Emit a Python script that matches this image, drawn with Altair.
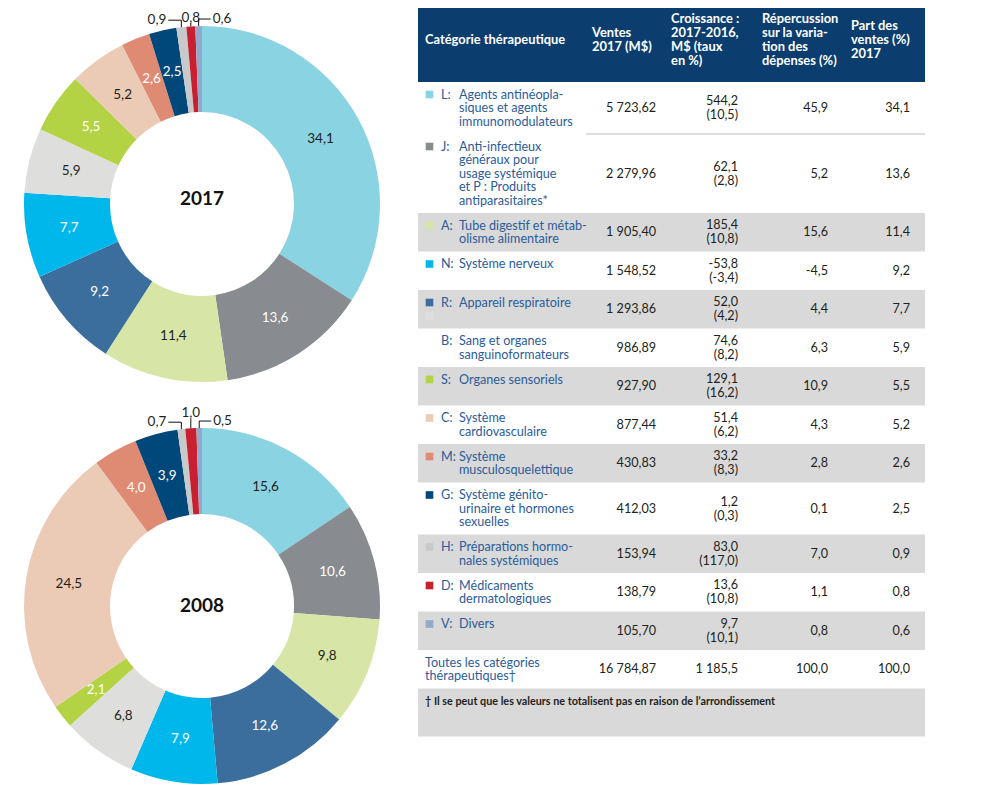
import math
import altair as alt
import pandas as pd

# ---------------- data ----------------
codes = ["L", "J", "A", "N", "R", "B", "S", "C", "M", "G", "H", "D", "V"]
category_lines = [
    ["Agents antinéopla-", "siques et agents", "immunomodulateurs"],
    ["Anti-infectieux", "généraux pour", "usage systémique", "et P : Produits", "antiparasitaires*"],
    ["Tube digestif et métab-", "olisme alimentaire"],
    ["Système nerveux"],
    ["Appareil respiratoire"],
    ["Sang et organes", "sanguinoformateurs"],
    ["Organes sensoriels"],
    ["Système", "cardiovasculaire"],
    ["Système", "musculosquelettique"],
    ["Système génito-", "urinaire et hormones", "sexuelles"],
    ["Préparations hormo-", "nales systémiques"],
    ["Médicaments", "dermatologiques"],
    ["Divers"],
]
ventes_2017 = [5723.62, 2279.96, 1905.40, 1548.52, 1293.86, 986.89, 927.90,
               877.44, 430.83, 412.03, 153.94, 138.79, 105.70]
croissance_ms = [544.2, 62.1, 185.4, -53.8, 52.0, 74.6, 129.1, 51.4, 33.2, 1.2, 83.0, 13.6, 9.7]
croissance_taux = [10.5, 2.8, 10.8, -3.4, 4.2, 8.2, 16.2, 6.2, 8.3, 0.3, 117.0, 10.8, 10.1]
repercussion = [45.9, 5.2, 15.6, -4.5, 4.4, 6.3, 10.9, 4.3, 2.8, 0.1, 7.0, 1.1, 0.8]
part_2017 = [34.1, 13.6, 11.4, 9.2, 7.7, 5.9, 5.5, 5.2, 2.6, 2.5, 0.9, 0.8, 0.6]
part_2008 = [15.6, 10.6, 9.8, 12.6, 7.9, 6.8, 2.1, 24.5, 4.0, 3.9, 0.7, 1.0, 0.5]
years = ["2017", "2008"]
total_label = ["Toutes les catégories", "thérapeutiques†"]
total_ventes = 16784.87
total_croissance = 1185.5
total_repercussion = 100.0
total_part = 100.0
header_cat = ["Catégorie thérapeutique"]
header_ventes = ["Ventes", "2017 (M$)"]
header_crois = ["Croissance :", "2017-2016,", "M$ (taux", "en %)"]
header_rep = ["Répercussion", "sur la varia-", "tion des", "dépenses (%)"]
header_part = ["Part des", "ventes (%)", "2017"]
footnote = "† Il se peut que les valeurs ne totalisent pas en raison de l’arrondissement"

# ---------------- style ----------------
colors = {
    "L": "#8AD3E2", "J": "#888B90", "A": "#D7E6A6", "N": "#00B7EB",
    "R": "#3C6E9D", "B": "#DEDFDD", "S": "#B3D244", "C": "#EBCBB5",
    "M": "#DF8B74", "G": "#00477A", "H": "#C8C9CA", "D": "#C9202F", "V": "#93A9CB",
}
# in the source the donuts show the N and R swatches swapped
donut_colors = dict(colors, N=colors["R"], R=colors["N"])
dark_labels = {"L", "A", "B", "C"}
outside = ["H", "D", "V"]
FONT = "Lato"
BLUE_TXT = "#2B5C9B"
INK = "#231F20"
NAVY = "#0B3E6F"
GRAY = "#D9D9D9"
FS = 12.6      # body text size
FS_H = 12.9    # header text size

W, H = 980, 778
CX = 194
CY = {"2017": 196, "2008": 598}
CENTER_LABEL_Y = {"2017": 191, "2008": 598}
R_OUT, R_IN, R_LAB = 178, 92, 135

TX0, TX1 = 410, 917
HEAD_Y1 = 74
LH = 13.5
X_SQ, X_CODE, X_CAT = 421.5, 433, 451
X_VENTES, X_CROIS, X_REP, X_PART = 648, 730, 820, 902
HX = {"cat": 417, "ventes": 584, "crois": 663, "rep": 754, "part": 843}

XS = alt.Scale(domain=[0, W], nice=False, zero=False)
YS = alt.Scale(domain=[0, H], nice=False, zero=False, reverse=True)
DONUT_COLOR = alt.Color("code:N", scale=alt.Scale(domain=codes, range=[donut_colors[c] for c in codes]),
                        legend=None)
SWATCH_FILL = alt.Fill("code:N", scale=alt.Scale(domain=codes, range=[colors[c] for c in codes]),
                       legend=None)


def fr(v, d):
    s = f"{abs(v):,.{d}f}".replace(",", " ").replace(".", ",")
    return ("-" if v < 0 else "") + s


def X(f):
    return alt.X(f, scale=XS, axis=None)


def Y(f):
    return alt.Y(f, scale=YS, axis=None)


# ---------------- donuts ----------------
def donut(vals, year):
    cy = CY[year]
    df = pd.DataFrame({
        "code": codes, "v": vals, "idx": list(range(len(codes))),
        "lab_dark": [fr(v, 1) if (c in dark_labels) else "" for c, v in zip(codes, vals)],
        "lab_light": [fr(v, 1) if (c not in dark_labels and c not in outside) else ""
                      for c, v in zip(codes, vals)],
    })
    base = alt.Chart(df).encode(
        theta=alt.Theta("v:Q", stack=True),
        order=alt.Order("idx:Q", sort="ascending"),
        x=alt.value(CX), y=alt.value(cy),
    )
    arc = base.mark_arc(innerRadius=R_IN, outerRadius=R_OUT, strokeWidth=0).encode(color=DONUT_COLOR)
    txt_d = base.mark_text(radius=R_LAB, font=FONT, fontSize=13.5, color=INK).encode(
        text="lab_dark:N", detail="code:N")
    txt_l = base.mark_text(radius=R_LAB, font=FONT, fontSize=13.5, color="white").encode(
        text="lab_light:N", detail="code:N")
    center = alt.Chart(pd.DataFrame({"t": [year]})).mark_text(
        font=FONT, fontSize=19, fontWeight="bold", color="#111111", baseline="middle"
    ).encode(text="t:N", x=alt.value(CX), y=alt.value(CENTER_LABEL_Y[year]))

    # leaders for the tiny slices, anchored at the mid-angle of each slice
    total = sum(vals)
    segs, labs = [], []
    cum = 0.0
    for c, v in zip(codes, vals):
        start = cum
        cum += v
        if c not in outside:
            continue
        a = (start + v / 2) / total * 2 * math.pi
        ax = CX + R_OUT * math.sin(a)
        ay = cy - R_OUT * math.cos(a)
        t = fr(v, 1)
        if c == "H":
            hy = ay - 7
            segs += [dict(x=ax, x2=ax, y=ay, y2=hy), dict(x=ax, x2=ax - 13, y=hy, y2=hy)]
            labs.append(dict(x=ax - 15, y=hy, t=t, al="right", bl="middle"))
        elif c == "V":
            hy = ay - 7
            segs += [dict(x=ax, x2=ax, y=ay, y2=hy), dict(x=ax, x2=ax + 12, y=hy, y2=hy)]
            labs.append(dict(x=ax + 14, y=hy, t=t, al="left", bl="middle"))
        else:
            ly = max(ay - 11, 14)
            segs += [dict(x=ax, x2=ax, y=ay, y2=min(ly + 1, ay - 3))]
            labs.append(dict(x=ax, y=ly, t=t, al="center", bl="alphabetic"))
    seg_df = pd.DataFrame(segs)
    lab_df = pd.DataFrame(labs)
    rules = alt.Chart(seg_df).mark_rule(color="#111111", strokeWidth=1).encode(
        x=X("x:Q"), x2="x2:Q", y=Y("y:Q"), y2="y2:Q")
    lab_layers = []
    for al in ["left", "center", "right"]:
        sub = lab_df[lab_df.al == al]
        bl = sub.bl.iloc[0]
        lab_layers.append(alt.Chart(sub).mark_text(
            align=al, baseline=bl, font=FONT, fontSize=13.5, color=INK
        ).encode(x=X("x:Q"), y=Y("y:Q"), text="t:N"))
    return alt.layer(arc, txt_d, txt_l, center, rules, *lab_layers)


# ---------------- table layout ----------------
rows = []
y = HEAD_Y1
for i, c in enumerate(codes):
    n = len(category_lines[i])
    h = LH * max(2, n) + 11.5
    rows.append(dict(code=c, top=y, bot=y + h, n=n, gray=(i >= 2 and i % 2 == 0)))
    y += h
total_top, total_bot = y, y + LH * 2 + 11.5
foot_top, foot_bot = total_bot, total_bot + 48


def block(lines, cy, lh=LH):
    n = max(2, len(lines))
    first = cy - (n - 1) * lh / 2
    return [(first + k * lh, s) for k, s in enumerate(lines)]


bg = [dict(y0=r["top"], y1=r["bot"]) for r in rows if r["gray"]] + [dict(y0=foot_top, y1=foot_bot)]
bg_df = pd.DataFrame(bg).assign(x0=TX0, x1=TX1)

cat_rows, code_rows, sq_rows = [], [], []
num_rows = {k: [] for k in ["v", "c", "r", "p"]}
first_line = {}
for i, r in enumerate(rows):
    cyr = (r["top"] + r["bot"]) / 2
    lines = block(category_lines[i], cyr)
    first_line[r["code"]] = lines[0][0]
    for yy, s in lines:
        cat_rows.append(dict(y=yy, t=s))
    code_rows.append(dict(y=lines[0][0], t=r["code"] + ":"))
    num_rows["v"].append(dict(y=cyr, t=fr(ventes_2017[i], 2)))
    num_rows["c"].append(dict(y=cyr - 7, t=fr(croissance_ms[i], 1)))
    num_rows["c"].append(dict(y=cyr + 7, t="(" + fr(croissance_taux[i], 1) + ")"))
    num_rows["r"].append(dict(y=cyr, t=fr(repercussion[i], 1)))
    num_rows["p"].append(dict(y=cyr, t=fr(part_2017[i], 1)))
# legend swatches (the B swatch sits under the R swatch, as in the source)
for c in codes:
    yy = first_line["R"] + LH if c == "B" else first_line[c]
    sq_rows.append(dict(code=c, y=yy))

tcy = (total_top + total_bot) / 2
total_lines = [dict(y=yy, t=s) for yy, s in block(total_label, tcy)]
num_rows["v"].append(dict(y=tcy, t=fr(total_ventes, 2)))
num_rows["c"].append(dict(y=tcy, t=fr(total_croissance, 1)))
num_rows["r"].append(dict(y=tcy, t=fr(total_repercussion, 1)))
num_rows["p"].append(dict(y=tcy, t=fr(total_part, 1)))

HEAD_CY = 32
LH_H = 13.9


def hblock(lines):
    n = len(lines)
    return [dict(y=HEAD_CY + (k - (n - 1) / 2) * LH_H, t=s) for k, s in enumerate(lines)]


def text_layer(records, x, align="left", color=INK, size=FS, weight="normal", baseline="middle"):
    return alt.Chart(pd.DataFrame(records)).mark_text(
        align=align, baseline=baseline, font=FONT, fontSize=size, fontWeight=weight, color=color
    ).encode(x=alt.value(x), y=Y("y:Q"), text="t:N")


head_rect = alt.Chart(pd.DataFrame([dict(x0=TX0, x1=TX1, y0=0, y1=HEAD_Y1)])).mark_rect(color=NAVY).encode(
    x=X("x0:Q"), x2="x1:Q", y=Y("y0:Q"), y2="y1:Q")
gray_rect = alt.Chart(bg_df).mark_rect(color=GRAY).encode(
    x=X("x0:Q"), x2="x1:Q", y=Y("y0:Q"), y2="y1:Q")
sep = alt.Chart(pd.DataFrame([dict(x=578, x2=TX1, y=rows[0]["bot"])])).mark_rule(
    color="#BDBDBD", strokeWidth=1).encode(x=X("x:Q"), x2="x2:Q", y=Y("y:Q"))
squares = alt.Chart(pd.DataFrame(sq_rows)).mark_square(size=58, opacity=1).encode(
    x=alt.value(X_SQ), y=Y("y:Q"), fill=SWATCH_FILL)

table_layers = [
    head_rect, gray_rect, sep, squares,
    text_layer(hblock(header_cat), HX["cat"], color="white", weight="bold", size=FS_H),
    text_layer(hblock(header_ventes), HX["ventes"], color="white", weight="bold", size=FS_H),
    text_layer(hblock(header_crois), HX["crois"], color="white", weight="bold", size=FS_H),
    text_layer(hblock(header_rep), HX["rep"], color="white", weight="bold", size=FS_H),
    text_layer(hblock(header_part), HX["part"], color="white", weight="bold", size=FS_H),
    text_layer(code_rows, X_CODE, color=BLUE_TXT),
    text_layer(cat_rows, X_CAT, color=BLUE_TXT),
    text_layer(total_lines, HX["cat"], color=BLUE_TXT),
    text_layer(num_rows["v"], X_VENTES, align="right"),
    text_layer(num_rows["c"], X_CROIS, align="right"),
    text_layer(num_rows["r"], X_REP, align="right"),
    text_layer(num_rows["p"], X_PART, align="right"),
    text_layer([dict(y=foot_top + 13.5, t=footnote)], HX["cat"], size=10.8, weight="bold"),
]

chart = alt.layer(
    *table_layers,
    donut(part_2017, years[0]),
    donut(part_2008, years[1]),
).resolve_scale(theta="independent").properties(
    width=W, height=H, padding=0, autosize=alt.AutoSizeParams(type="none")
).configure_view(stroke=None)

chart.save("out.html", embed_options={"renderer": "svg", "actions": False})
